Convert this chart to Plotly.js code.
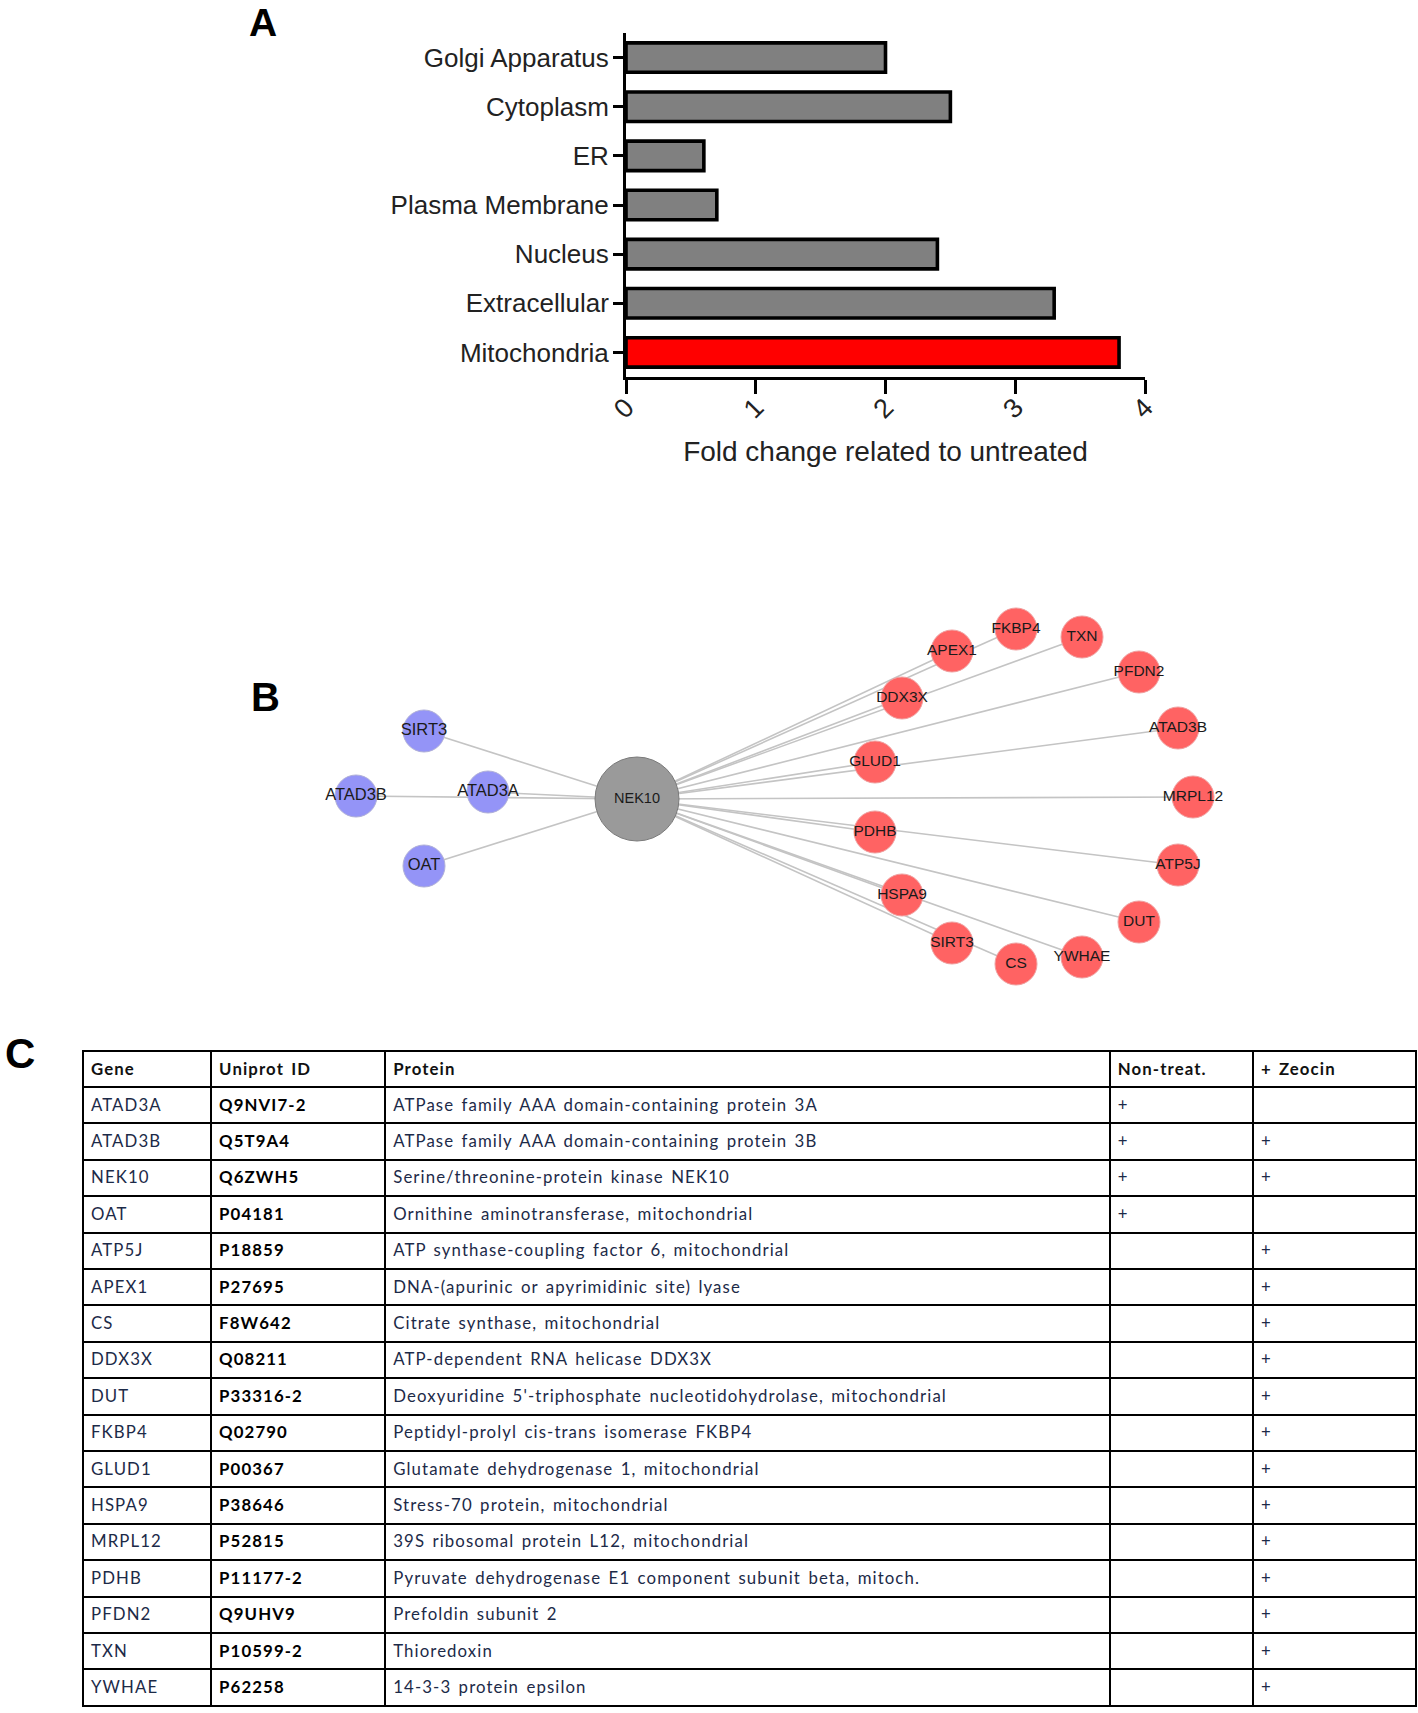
<!DOCTYPE html>
<html>
<head>
<meta charset="utf-8">
<script src="https://cdn.plot.ly/plotly-3.0.1.min.js"></script>
<style>
html,body{margin:0;padding:0;background:#fff;}
#chart{width:1418px;height:1713px;}
#chart .table .cell-text{letter-spacing:1.1px;word-spacing:2px;baseline-shift:-3px;}
</style>
</head>
<body>
<div id="chart"></div>
<script>
// ---------- Panel A data ----------
const categories = ['Golgi Apparatus', 'Cytoplasm', 'ER', 'Plasma Membrane', 'Nucleus', 'Extracellular', 'Mitochondria'];
const foldChange = [2.0, 2.5, 0.6, 0.7, 2.4, 3.3, 3.8];
const highlighted = 'Mitochondria';
const xTicks = [0, 1, 2, 3, 4];

// ---------- Panel B data (network layout) ----------
const nodeLabels = ['NEK10', 'SIRT3', 'ATAD3B', 'ATAD3A', 'OAT',
  'FKBP4', 'TXN', 'APEX1', 'PFDN2', 'DDX3X', 'ATAD3B', 'GLUD1', 'MRPL12',
  'PDHB', 'ATP5J', 'HSPA9', 'DUT', 'SIRT3', 'CS', 'YWHAE'];
const nodeGroup = ['hub', 'nontreat', 'nontreat', 'nontreat', 'nontreat',
  'zeocin', 'zeocin', 'zeocin', 'zeocin', 'zeocin', 'zeocin', 'zeocin', 'zeocin',
  'zeocin', 'zeocin', 'zeocin', 'zeocin', 'zeocin', 'zeocin', 'zeocin'];
const nodeX = [637, 424, 356, 488, 424,
  1016, 1082, 952, 1139, 902, 1178, 875, 1193,
  875, 1178, 902, 1139, 952, 1016, 1082];
const nodeY = [799, 731, 796, 792, 866,
  629, 637, 651, 672, 698, 728, 762, 797,
  832, 865, 895, 922, 943, 964, 957];
const edgeSource = [0, 0, 0, 0, 0, 0, 0, 0, 0, 0, 0, 0, 0, 0, 0, 0, 0, 0, 0];
const edgeTarget = [1, 2, 3, 4, 5, 6, 7, 8, 9, 10, 11, 12, 13, 14, 15, 16, 17, 18, 19];

// ---------- Panel C data ----------
const tableHeader = ['Gene', 'Uniprot ID', 'Protein', 'Non-treat.', '+ Zeocin'];
const genes = ['ATAD3A', 'ATAD3B', 'NEK10', 'OAT', 'ATP5J', 'APEX1', 'CS', 'DDX3X', 'DUT',
  'FKBP4', 'GLUD1', 'HSPA9', 'MRPL12', 'PDHB', 'PFDN2', 'TXN', 'YWHAE'];
const uniprotIds = ['Q9NVI7-2', 'Q5T9A4', 'Q6ZWH5', 'P04181', 'P18859', 'P27695', 'F8W642', 'Q08211',
  'P33316-2', 'Q02790', 'P00367', 'P38646', 'P52815', 'P11177-2', 'Q9UHV9', 'P10599-2', 'P62258'];
const proteins = [
  'ATPase family AAA domain-containing protein 3A',
  'ATPase family AAA domain-containing protein 3B',
  'Serine/threonine-protein kinase NEK10',
  'Ornithine aminotransferase, mitochondrial',
  'ATP synthase-coupling factor 6, mitochondrial',
  'DNA-(apurinic or apyrimidinic site) lyase',
  'Citrate synthase, mitochondrial',
  'ATP-dependent RNA helicase DDX3X',
  "Deoxyuridine 5'-triphosphate nucleotidohydrolase, mitochondrial",
  'Peptidyl-prolyl cis-trans isomerase FKBP4',
  'Glutamate dehydrogenase 1, mitochondrial',
  'Stress-70 protein, mitochondrial',
  '39S ribosomal protein L12, mitochondrial',
  'Pyruvate dehydrogenase E1 component subunit beta, mitoch.',
  'Prefoldin subunit 2',
  'Thioredoxin',
  '14-3-3 protein epsilon'];
const nonTreat = ['+', '+', '+', '+', '', '', '', '', '', '', '', '', '', '', '', '', ''];
const zeocin = ['', '+', '+', '', '+', '+', '+', '+', '+', '+', '+', '+', '+', '+', '+', '+', '+'];

// ---------- helpers ----------
const W = 1418, H = 1713;
const px = v => v / W;
const py = v => 1 - v / H;
const ARIAL = 'Liberation Sans, Arial, sans-serif';
const TABLEFONT = 'Lato, Carlito, sans-serif';

// ---------- traces ----------
const barTrace = {
  type: 'bar', orientation: 'h',
  y: categories, x: foldChange,
  width: 0.6,
  marker: {
    color: categories.map(c => c === highlighted ? '#FF0000' : '#808080'),
    line: {color: '#000000', width: 3.6}
  },
  xaxis: 'x', yaxis: 'y', hoverinfo: 'x+y', showlegend: false
};

const ex = [], ey = [];
edgeSource.forEach((s, i) => {
  const t = edgeTarget[i];
  ex.push(nodeX[s], nodeX[t], null);
  ey.push(nodeY[s], nodeY[t], null);
});
const edgeTrace = {
  type: 'scatter', mode: 'lines', x: ex, y: ey,
  line: {color: '#c4c4c4', width: 1.6},
  xaxis: 'x2', yaxis: 'y2', hoverinfo: 'skip', showlegend: false
};

const groupStyle = {
  hub: {color: '#9a9a9a', size: 84, line: '#7a7a7a', font: 14.5},
  nontreat: {color: '#9494f7', size: 42, line: '#b0b0d8', font: 16.5},
  zeocin: {color: '#ff6363', size: 42, line: '#f0a0a0', font: 15.5}
};
const nodeTraces = Object.keys(groupStyle).map(g => {
  const idx = nodeGroup.map((v, i) => v === g ? i : -1).filter(i => i >= 0);
  const st = groupStyle[g];
  return {
    type: 'scatter', mode: 'markers+text',
    x: idx.map(i => nodeX[i]), y: idx.map(i => nodeY[i]),
    text: idx.map(i => nodeLabels[i]),
    textposition: 'middle center',
    textfont: {family: ARIAL, size: st.font, color: '#1a1a1a'},
    marker: {color: st.color, size: st.size, line: {color: st.line, width: 1}, opacity: 1},
    xaxis: 'x2', yaxis: 'y2', hoverinfo: 'text', showlegend: false
  };
});

const tableTrace = {
  type: 'table',
  domain: {x: [px(83), px(1416)], y: [0, py(1051)]},
  columnwidth: [128, 174, 724, 143, 163],
  header: {
    values: tableHeader,
    align: 'left', height: 36,
    line: {color: '#000000', width: 2},
    fill: {color: '#ffffff'},
    font: {family: TABLEFONT, size: 16.8, color: '#111111', weight: 'bold'}
  },
  cells: {
    values: [genes, uniprotIds, proteins, nonTreat, zeocin],
    align: 'left', height: 36.4,
    line: {color: '#000000', width: 2},
    fill: {color: '#ffffff'},
    font: {
      family: TABLEFONT, size: 16.8,
      color: ['#1c2a48', '#000000', '#1c2a48', '#1c2a48', '#1c2a48'],
      weight: ['normal', 'bold', 'normal', 'normal', 'normal']
    }
  }
};

const layout = {
  width: W, height: H,
  margin: {l: 0, r: 0, t: 0, b: 0, pad: 0},
  paper_bgcolor: '#ffffff', plot_bgcolor: 'rgba(0,0,0,0)',
  showlegend: false,
  xaxis: {
    domain: [px(626), px(1145)], range: [0, 4],
    tickvals: xTicks, ticktext: xTicks.map(String), tickangle: -45,
    ticks: 'outside', ticklen: 14, tickwidth: 3, tickcolor: '#000',
    ticklabelstandoff: -13,
    showline: true, linewidth: 3, linecolor: '#000',
    showgrid: false, zeroline: false,
    tickfont: {family: ARIAL, size: 27, color: '#222'},
    title: {text: 'Fold change related to untreated', standoff: 19,
      font: {family: ARIAL, size: 28, color: '#222'}},
    anchor: 'y', fixedrange: true
  },
  yaxis: {
    domain: [py(377), py(33)], type: 'category',
    categoryorder: 'array', categoryarray: categories,
    range: [6.5, -0.5],
    ticks: 'outside', ticklen: 10, tickwidth: 3, tickcolor: '#000',
    ticklabelstandoff: -1,
    showline: true, linewidth: 3, linecolor: '#000',
    showgrid: false, zeroline: false,
    tickfont: {family: ARIAL, size: 26, color: '#222'},
    anchor: 'x', fixedrange: true
  },
  xaxis2: {domain: [px(280), px(1240)], range: [280, 1240], visible: false, anchor: 'y2', fixedrange: true},
  yaxis2: {domain: [py(1000), py(580)], range: [1000, 580], visible: false, anchor: 'x2', fixedrange: true},
  annotations: [
    {text: '<b>A</b>', x: px(263), y: 1, xref: 'paper', yref: 'paper', xanchor: 'center', yanchor: 'top',
      borderpad: 0, showarrow: false, font: {family: ARIAL, size: 39, color: '#000'}},
    {text: '<b>B</b>', x: px(265), y: py(697), xref: 'paper', yref: 'paper', xanchor: 'center', yanchor: 'middle',
      showarrow: false, font: {family: ARIAL, size: 40, color: '#000'}},
    {text: '<b>C</b>', x: px(20), y: py(1053), xref: 'paper', yref: 'paper', xanchor: 'center', yanchor: 'middle',
      showarrow: false, font: {family: ARIAL, size: 42, color: '#000'}}
  ]
};

Plotly.newPlot('chart', [barTrace, edgeTrace].concat(nodeTraces).concat([tableTrace]), layout,
  {displayModeBar: false});
</script>
</body>
</html>
